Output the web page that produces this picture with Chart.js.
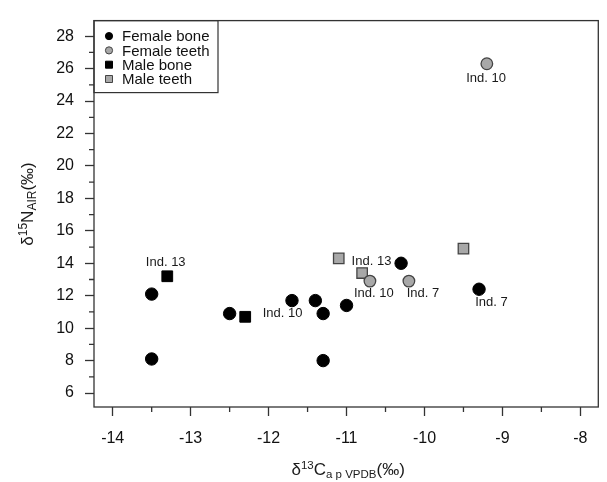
<!DOCTYPE html>
<html lang="en">
<head>
<meta charset="UTF-8">
<title>δ13C vs δ15N</title>
<script src="https://cdn.jsdelivr.net/npm/chart.js"></script>
<style>
    html, body { margin: 0; padding: 0; background: #fff; }
    .container { width: 607px; height: 482px; position: relative; }
</style>
</head>
<body>
<div class="container"><canvas id="grafico"></canvas></div>
<script>
    // valores
    const femaleBoneX = [-13.5, -13.5, -12.5, -11.7, -11.4, -11.3, -11.0, -11.3, -10.3, -9.3];
    const femaleBoneY = [12.1, 8.1, 10.9, 11.7, 11.7, 10.9, 11.4, 8.0, 14.0, 12.4];
    const femaleTeethX = [-9.2, -10.7, -10.2];
    const femaleTeethY = [26.3, 12.9, 12.9];
    const maleBoneX = [-13.3, -12.3];
    const maleBoneY = [13.2, 10.7];
    const maleTeethX = [-11.1, -10.8, -9.5];
    const maleTeethY = [14.3, 13.4, 14.9];

    // rótulos dos indivíduos (centro do texto, em unidades dos eixos)
    const labelTexts = ['Ind. 10', 'Ind. 13', 'Ind. 10', 'Ind. 13', 'Ind. 10', 'Ind. 7', 'Ind. 7'];
    const labelX = [-9.21, -13.32, -11.82, -10.68, -10.65, -10.02, -9.14];
    const labelY = [25.37, 14.04, 10.88, 14.12, 12.13, 12.13, 11.57];

    const xMin = -14.24, xMax = -7.77;
    const yMin = 5.14, yMax = 28.96;
    const xTickValues = [-14, -13, -12, -11, -10, -9, -8];
    const xMinorTicks = [-13.5, -12.5, -11.5, -10.5, -9.5, -8.5];
    const yTickValues = [6, 8, 10, 12, 14, 16, 18, 20, 22, 24, 26, 28];
    const yMinorTicks = [7, 9, 11, 13, 15, 17, 19, 21, 23, 25, 27];

    const fonte = 'Arial, "Liberation Sans", sans-serif';
    const cinza = '#a8a8a8';
    const borda = '#333';

    function pontos(xs, ys) {
        return xs.map((x, i) => ({ x: x, y: ys[i] }));
    }

    // texto com sobrescrito / subscrito
    function textoRico(ctx, partes) {
        let w = 0;
        partes.forEach(p => {
            ctx.font = p.size + 'px ' + fonte;
            w += ctx.measureText(p.t).width;
        });
        let x = -w / 2;
        partes.forEach(p => {
            ctx.font = p.size + 'px ' + fonte;
            ctx.fillText(p.t, x, p.dy || 0);
            x += ctx.measureText(p.t).width;
        });
    }

    const extras = {
        id: 'extras',
        afterDraw(chart) {
            const ctx = chart.ctx;
            const a = chart.chartArea;
            const sx = chart.scales.x;
            const sy = chart.scales.y;
            ctx.save();

            // moldura
            ctx.strokeStyle = borda;
            ctx.lineWidth = 1.3;
            ctx.strokeRect(a.left, a.top, a.right - a.left, a.bottom - a.top);

            // marcas menores
            ctx.beginPath();
            xMinorTicks.forEach(v => {
                const px = sx.getPixelForValue(v);
                ctx.moveTo(px, a.bottom);
                ctx.lineTo(px, a.bottom + 5);
            });
            yMinorTicks.forEach(v => {
                const py = sy.getPixelForValue(v);
                ctx.moveTo(a.left - 5, py);
                ctx.lineTo(a.left, py);
            });
            ctx.stroke();

            // rótulos Ind.
            ctx.fillStyle = '#1a1a1a';
            ctx.font = '13px ' + fonte;
            ctx.textAlign = 'center';
            ctx.textBaseline = 'middle';
            labelTexts.forEach((t, i) => {
                ctx.fillText(t, sx.getPixelForValue(labelX[i]), sy.getPixelForValue(labelY[i]));
            });

            // legenda
            const lx = a.left, ly = a.top;
            ctx.strokeStyle = borda;
            ctx.lineWidth = 1.2;
            ctx.strokeRect(lx, ly, 124, 72);
            ctx.textAlign = 'left';
            ctx.font = '15px ' + fonte;
            chart.data.datasets.forEach((ds, i) => {
                const cy = ly + 15.5 + i * 14.3;
                const cx = lx + 15;
                ctx.fillStyle = ds.backgroundColor;
                ctx.strokeStyle = ds.borderColor;
                ctx.lineWidth = 1;
                ctx.beginPath();
                if (ds.pointStyle === 'rect') {
                    ctx.rect(cx - 3.5, cy - 3.5, 7, 7);
                } else {
                    ctx.arc(cx, cy, 3.6, 0, Math.PI * 2);
                }
                ctx.fill();
                ctx.stroke();
                ctx.fillStyle = '#111';
                ctx.fillText(ds.label, lx + 28, cy + 1);
            });

            // títulos dos eixos
            ctx.fillStyle = '#1a1a1a';
            ctx.textAlign = 'left';
            ctx.textBaseline = 'alphabetic';
            ctx.save();
            ctx.translate((a.left + a.right) / 2 + 2, 475);
            textoRico(ctx, [
                { t: 'δ', size: 17 },
                { t: '13', size: 11.5, dy: -6.5 },
                { t: 'C', size: 17 },
                { t: 'a p VPDB', size: 11.5, dy: 3 },
                { t: '(‰)', size: 17 }
            ]);
            ctx.restore();

            ctx.save();
            ctx.translate(33, 204);
            ctx.rotate(-Math.PI / 2);
            textoRico(ctx, [
                { t: 'δ', size: 17 },
                { t: '15', size: 12, dy: -6.5 },
                { t: 'N', size: 17 },
                { t: 'AIR', size: 12, dy: 3 },
                { t: '(‰)', size: 17 }
            ]);
            ctx.restore();

            ctx.restore();
        }
    };

    const ctxGrafico = document.getElementById('grafico').getContext('2d');
    new Chart(ctxGrafico, {
        type: 'scatter',
        data: {
            datasets: [
                {
                    label: 'Female bone',
                    data: pontos(femaleBoneX, femaleBoneY),
                    pointStyle: 'circle',
                    pointRadius: 6.2,
                    backgroundColor: '#000',
                    borderColor: '#000',
                    borderWidth: 1,
                    order: 2
                },
                {
                    label: 'Female teeth',
                    data: pontos(femaleTeethX, femaleTeethY),
                    pointStyle: 'circle',
                    pointRadius: 5.8,
                    backgroundColor: cinza,
                    borderColor: '#444',
                    borderWidth: 1.3,
                    order: 0
                },
                {
                    label: 'Male bone',
                    data: pontos(maleBoneX, maleBoneY),
                    pointStyle: 'rect',
                    pointRadius: 7.6,
                    backgroundColor: '#000',
                    borderColor: '#000',
                    borderWidth: 1,
                    order: 3
                },
                {
                    label: 'Male teeth',
                    data: pontos(maleTeethX, maleTeethY),
                    pointStyle: 'rect',
                    pointRadius: 7.4,
                    backgroundColor: cinza,
                    borderColor: '#444',
                    borderWidth: 1.3,
                    order: 1
                }
            ]
        },
        options: {
            responsive: true,
            maintainAspectRatio: false,
            animation: false,
            layout: { padding: { top: 8, right: 3, left: 0, bottom: 0 } },
            plugins: {
                legend: { display: false },
                tooltip: { enabled: false }
            },
            scales: {
                x: {
                    type: 'linear',
                    min: xMin,
                    max: xMax,
                    afterBuildTicks: s => { s.ticks = xTickValues.map(v => ({ value: v })); },
                    afterFit: s => { s.height = 75; },
                    border: { display: false },
                    grid: { drawOnChartArea: false, drawTicks: true, tickLength: 9, tickColor: borda, tickWidth: 1.3 },
                    ticks: { padding: 13, color: '#111', font: { size: 16, family: fonte } }
                },
                y: {
                    type: 'linear',
                    min: yMin,
                    max: yMax,
                    afterBuildTicks: s => { s.ticks = yTickValues.map(v => ({ value: v })); },
                    afterFit: s => { s.width = 94; },
                    border: { display: false },
                    grid: { drawOnChartArea: false, drawTicks: true, tickLength: 9, tickColor: borda, tickWidth: 1.3 },
                    ticks: { padding: 11, color: '#111', font: { size: 16, family: fonte } }
                }
            }
        },
        plugins: [extras]
    });
</script>
</body>
</html>
